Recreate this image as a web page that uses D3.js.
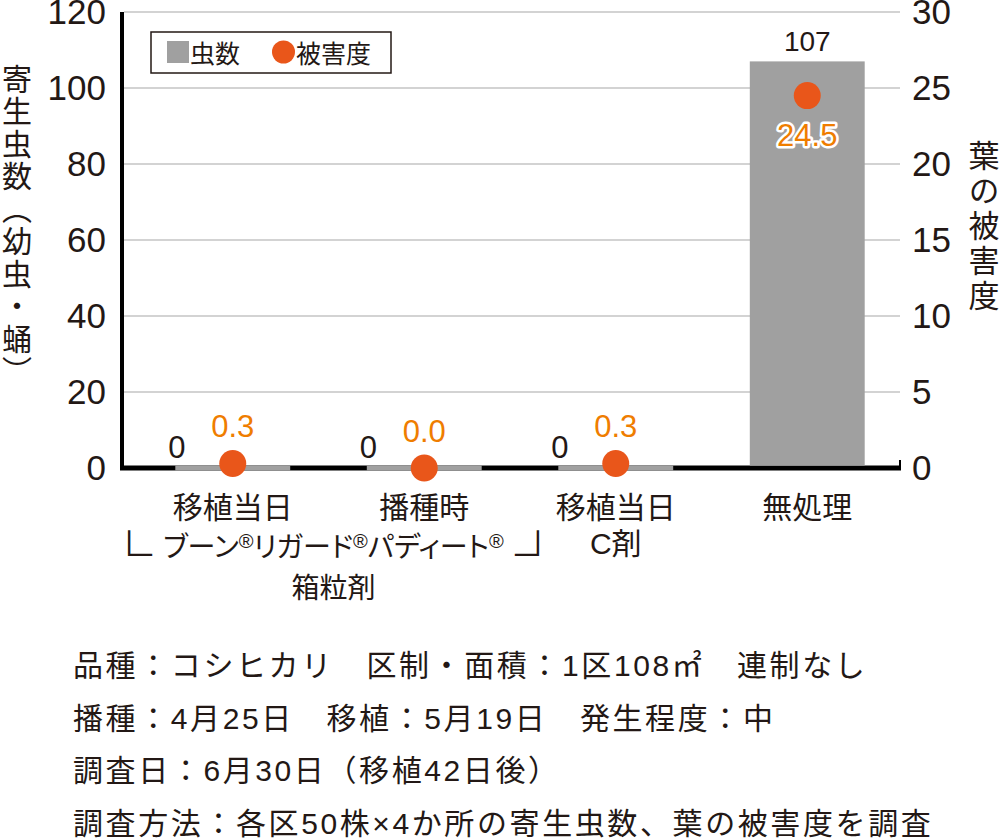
<!DOCTYPE html>
<html>
<head>
<meta charset="utf-8">
<script src="https://cdn.jsdelivr.net/npm/d3@7"></script>
<style>
  body { margin: 0; background: #fff; }
  text { font-family: "Liberation Sans", "Noto Sans CJK JP", sans-serif; fill: #231815; }
</style>
</head>
<body>
<script>
// data
var categories = ["移植当日", "播種時", "移植当日 C剤", "無処理"];
var pestCounts = [0, 0, 0, 107];        // 寄生虫数 (left axis)
var damage = [0.3, 0.0, 0.3, 24.5];     // 葉の被害度 (right axis)
var leftTicks = [0, 20, 40, 60, 80, 100, 120];
var rightTicks = [0, 5, 10, 15, 20, 25, 30];
var groupNote = ["ブーン®リガード®パディート®", "箱粒剤"];   // spans first two categories
var groupBracket = "∟";
var notes = [
  "品種：コシヒカリ　区制・面積：1区108㎡　連制なし",
  "播種：4月25日　移植：5月19日　発生程度：中",
  "調査日：6月30日（移植42日後）",
  "調査方法：各区50株×4か所の寄生虫数、葉の被害度を調査"
];

var w = 1001, h = 839;
var plotLeft = 122, plotRight = 900, plotTop = 12, base = 468;
var ink = "#231815", barGray = "#a0a0a0", dotOrange = "#e9561a", textOrange = "#ef7d00";

var svg = d3.select("body").append("svg")
            .attr("width", w)
            .attr("height", h);

var x = d3.scaleBand()
          .domain(categories)
          .range([137, 903])
          .paddingInner(0.4)
          .paddingOuter(0.2);
var y = d3.scaleLinear().domain([0, 120]).range([base, plotTop]);
var y2 = d3.scaleLinear().domain([0, 30]).range([base, plotTop]);
var cx = function(c) { return x(c) + x.bandwidth() / 2; };

// gridlines
svg.append("g")
   .selectAll("line")
   .data(leftTicks.filter(function(t) { return t > 0; }))
   .enter()
   .append("line")
   .attr("x1", plotLeft + 2)
   .attr("x2", plotRight)
   .attr("y1", function(d) { return y(d); })
   .attr("y2", function(d) { return y(d); })
   .attr("stroke", "#c4c4c4")
   .attr("stroke-width", 1.5);

// baseline + small tick at right end
svg.append("line")
   .attr("x1", plotLeft - 2).attr("x2", plotRight + 1)
   .attr("y1", base).attr("y2", base)
   .attr("stroke", "#000").attr("stroke-width", 5);
svg.append("line")
   .attr("x1", plotRight).attr("x2", plotRight)
   .attr("y1", base - 8).attr("y2", base)
   .attr("stroke", "#000").attr("stroke-width", 2);

// bars (zero values show as a grey strip over the baseline)
svg.append("g")
   .selectAll("rect")
   .data(categories)
   .enter()
   .append("rect")
   .attr("x", function(d) { return x(d); })
   .attr("width", x.bandwidth())
   .attr("y", function(d, i) { return pestCounts[i] > 0 ? y(pestCounts[i]) : base - 2.5; })
   .attr("height", function(d, i) { return pestCounts[i] > 0 ? base - 2.5 - y(pestCounts[i]) : 5; })
   .attr("fill", barGray);

// left axis line
svg.append("line")
   .attr("x1", plotLeft).attr("x2", plotLeft)
   .attr("y1", plotTop).attr("y2", base + 2)
   .attr("stroke", "#000").attr("stroke-width", 4);

// tick labels
var axL = svg.append("g")
             .attr("transform", "translate(" + plotLeft + ",0)")
             .call(d3.axisLeft(y).tickValues(leftTicks).tickSize(0).tickPadding(16));
var axR = svg.append("g")
             .attr("transform", "translate(" + plotRight + ",0)")
             .call(d3.axisRight(y2).tickValues(rightTicks).tickSize(0).tickPadding(12));
[axL, axR].forEach(function(ax) {
  ax.select(".domain").remove();
  ax.selectAll("text")
    .style("font-size", "35px")
    .style("font-family", "Liberation Sans")
    .attr("fill", ink);
});

// bar value labels
svg.append("g")
   .selectAll("text")
   .data(categories)
   .enter()
   .append("text")
   .attr("x", function(d, i) { return cx(d) - (pestCounts[i] === 0 ? 56 : 0); })
   .attr("y", function(d, i) { return y(pestCounts[i]) - 10; })
   .attr("text-anchor", "middle")
   .style("font-size", function(d, i) { return pestCounts[i] === 0 ? "31px" : "28px"; })
   .text(function(d, i) { return pestCounts[i]; });

// damage dots
svg.append("g")
   .selectAll("circle")
   .data(categories)
   .enter()
   .append("circle")
   .attr("cx", cx)
   .attr("cy", function(d, i) { return y2(damage[i]); })
   .attr("r", 13.5)
   .attr("fill", dotOrange);

svg.append("g")
   .selectAll("text")
   .data(categories)
   .enter()
   .append("text")
   .attr("x", cx)
   .attr("y", function(d, i) { return damage[i] > 10 ? y2(damage[i]) + 50 : y2(damage[i]) - 26; })
   .attr("text-anchor", "middle")
   .style("font-size", "31px")
   .style("fill", textOrange)
   .style("stroke", function(d, i) { return damage[i] > 10 ? "#fff" : "none"; })
   .style("stroke-width", 5)
   .style("stroke-linejoin", "round")
   .style("paint-order", "stroke")
   .text(function(d, i) { return damage[i].toFixed(1); });

// category labels
var catG = svg.append("g");
categories.forEach(function(c) {
  c.split(" ").forEach(function(line, j) {
    catG.append("text")
        .attr("x", cx(c))
        .attr("y", 518 + j * 36)
        .attr("text-anchor", "middle")
        .style("font-size", "30px")
        .text(line);
  });
});

// note under first two categories, with small ® marks
var gx = (cx(categories[0]) + cx(categories[1])) / 2 + 5;
groupNote.forEach(function(line, j) {
  var t = svg.append("text")
             .attr("x", gx)
             .attr("y", 557 + j * 41)
             .attr("text-anchor", "middle")
             .style("font-size", "28px")
             .style("font-feature-settings", "'palt'");
  var parts = line.split("®");
  parts.forEach(function(p, k) {
    t.append("tspan").attr("dy", k > 0 ? 9 : 0).text(p);
    if (k < parts.length - 1) {
      t.append("tspan").attr("dy", -9).style("font-size", "20px").text("®");
    }
  });
});
// corner marks either side of the first note line (right one mirrored)
[-1, 1].forEach(function(side) {
  svg.append("text")
     .attr("transform", "translate(" + (gx + side * 211) + ",556) scale(" + (-side) + ",1)")
     .attr("text-anchor", "start")
     .style("font-family", "Noto Sans CJK JP")
     .style("font-size", "34px")
     .text(groupBracket);
});

// legend
var lg = svg.append("g");
lg.append("rect")
  .attr("x", 151).attr("y", 32).attr("width", 240).attr("height", 41)
  .attr("fill", "#fff").attr("stroke", ink).attr("stroke-width", 1.5);
lg.append("rect")
  .attr("x", 167).attr("y", 41).attr("width", 22).attr("height", 22)
  .attr("fill", barGray);
lg.append("text").attr("x", 190).attr("y", 63).style("font-size", "25px").text("虫数");
lg.append("circle").attr("cx", 283.5).attr("cy", 52).attr("r", 11.5).attr("fill", dotOrange);
lg.append("text").attr("x", 296).attr("y", 63).style("font-size", "25px").text("被害度");

// axis titles (vertical)
svg.append("text")
   .attr("x", 17).attr("y", 226)
   .attr("text-anchor", "middle")
   .style("writing-mode", "vertical-rl")
   .style("font-family", "Noto Sans CJK JP")
   .style("font-size", "30px")
   .style("letter-spacing", "2.5px")
   .text("寄生虫数（幼虫・蛹）");
svg.append("text")
   .attr("x", 984).attr("y", 227)
   .attr("text-anchor", "middle")
   .style("writing-mode", "vertical-rl")
   .style("font-family", "Noto Sans CJK JP")
   .style("font-size", "31px")
   .style("letter-spacing", "4px")
   .text("葉の被害度");

// notes
svg.append("g")
   .selectAll("text")
   .data(notes)
   .enter()
   .append("text")
   .attr("x", 73)
   .attr("y", function(d, i) { return 676 + i * 52.5; })
   .style("font-size", "30px")
   .style("letter-spacing", "2.6px")
   .text(function(d) { return d; });
</script>
</body>
</html>
